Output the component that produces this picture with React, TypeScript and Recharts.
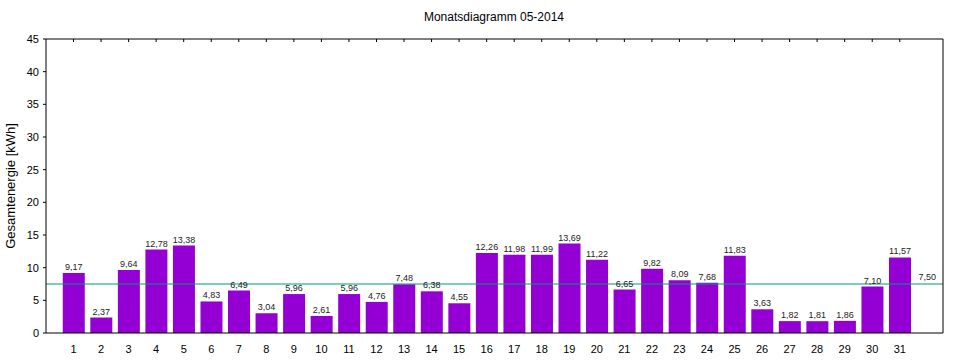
import { ComposedChart, Bar, XAxis, YAxis, ReferenceLine, ReferenceDot, LabelList } from 'recharts'

const days = [
  1, 2, 3, 4, 5, 6, 7, 8, 9, 10, 11, 12, 13, 14, 15, 16, 17, 18, 19, 20, 21, 22, 23, 24, 25, 26, 27, 28,
  29, 30, 31,
]
const energy = [
  9.17, 2.37, 9.64, 12.78, 13.38, 4.83, 6.49, 3.04, 5.96, 2.61, 5.96, 4.76, 7.48, 6.38, 4.55, 12.26, 11.98,
  11.99, 13.69, 11.22, 6.65, 9.82, 8.09, 7.68, 11.83, 3.63, 1.82, 1.81, 1.86, 7.1, 11.57,
]
const average = 7.5
const averageDay = 32
const yTicks = [0, 5, 10, 15, 20, 25, 30, 35, 40, 45]

const FONT = '"Liberation Sans", Arial, sans-serif'
const BAR_COLOR = '#9400d3'
const AVG_COLOR = '#00997a'

const fmt = (v: unknown) => Number(v).toFixed(2).replace('.', ',')

const data = days.map((d, i) => ({ day: d, value: energy[i] }))

const noLabel = () => <g />

export default function App() {
  return (
    <div style={{ position: 'absolute', left: 0, top: 0, width: 960, height: 360, background: '#fff', fontFamily: FONT }}>
      <div
        style={{
          position: 'absolute',
          top: 10,
          left: 46,
          width: 896,
          textAlign: 'center',
          fontSize: 12,
          color: '#000',
        }}
      >
        Monatsdiagramm 05-2014
      </div>
      <ComposedChart width={960} height={360} data={data} margin={{ top: 39, right: 17, left: 0, bottom: 0 }}>
        <XAxis
          dataKey="day"
          type="number"
          domain={[0, 32.57]}
          ticks={days}
          interval={0}
          height={27}
          stroke="#000"
          tickLine={false}
          tick={{ fill: '#000', fontSize: 11, fontFamily: FONT }}
          tickMargin={6}
          allowDataOverflow
        />
        <XAxis
          xAxisId="top"
          dataKey="day"
          type="number"
          orientation="top"
          mirror
          domain={[0, 32.57]}
          ticks={days}
          interval={0}
          height={1}
          stroke="#000"
          tickSize={3}
          tick={noLabel}
          allowDataOverflow
        />
        <YAxis
          domain={[0, 45]}
          ticks={yTicks}
          interval={0}
          width={46}
          stroke="#000"
          tickSize={3}
          tickMargin={4}
          tick={{ fill: '#000', fontSize: 11, fontFamily: FONT }}
          label={{
            value: 'Gesamtenergie [kWh]',
            angle: -90,
            position: 'insideLeft',
            offset: 10,
            style: { textAnchor: 'middle', fontSize: 13, fill: '#000', fontFamily: FONT },
          }}
        />
        <YAxis
          yAxisId="right"
          orientation="right"
          mirror
          domain={[0, 45]}
          ticks={yTicks}
          interval={0}
          width={1}
          stroke="#000"
          tickSize={3}
          tick={noLabel}
        />
        <Bar dataKey="value" fill={BAR_COLOR} barSize={22} isAnimationActive={false}>
          <LabelList
            dataKey="value"
            position="top"
            offset={3}
            formatter={fmt}
            style={{ fontSize: 9, fill: '#222', fontFamily: FONT }}
          />
        </Bar>
        <ReferenceLine y={average} stroke={AVG_COLOR} strokeWidth={1} />
        <ReferenceDot
          x={averageDay}
          y={average}
          r={0}
          stroke="none"
          fill="none"
          label={{ value: fmt(average), position: 'top', offset: 4, fontSize: 9, fill: '#222', fontFamily: FONT }}
        />
      </ComposedChart>
    </div>
  )
}
